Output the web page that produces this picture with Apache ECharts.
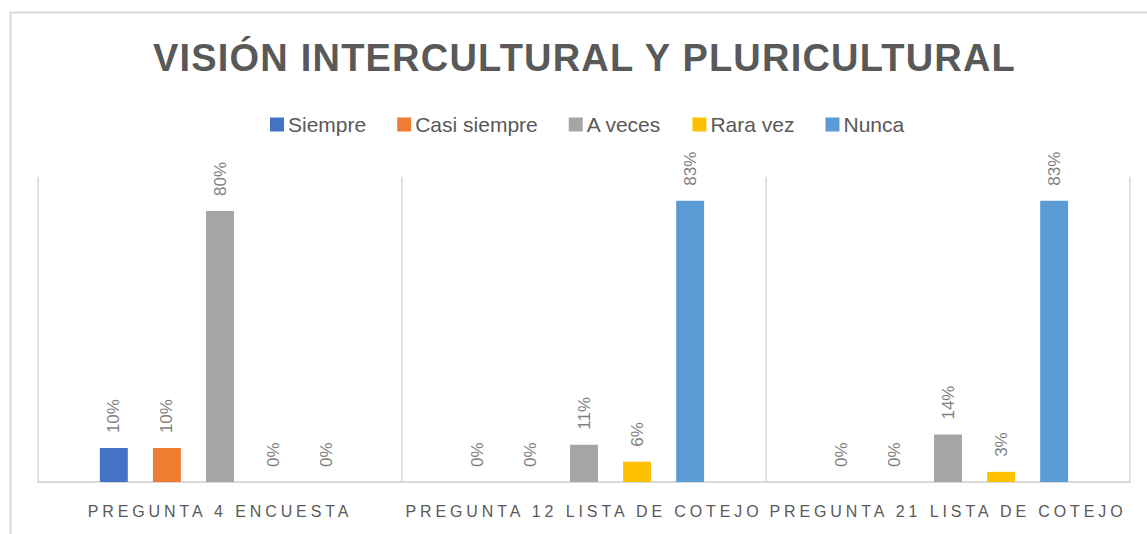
<!DOCTYPE html>
<html>
<head>
<meta charset="utf-8">
<script src="https://cdn.jsdelivr.net/npm/echarts@6/dist/echarts.min.js"></script>
<style>
html,body{margin:0;padding:0;background:#fff;}
#chart{width:1147px;height:534px;}
</style>
</head>
<body>
<div id="chart"></div>
<script>
const titleText = 'VISIÓN INTERCULTURAL Y PLURICULTURAL';
const categories = ['PREGUNTA 4 ENCUESTA', 'PREGUNTA 12 LISTA DE COTEJO', 'PREGUNTA 21 LISTA DE COTEJO'];
const seriesNames = ['Siempre', 'Casi siempre', 'A veces', 'Rara vez', 'Nunca'];
const siempre = [10, 0, 0];
const casiSiempre = [10, 0, 0];
const aVeces = [80, 11, 14];
const raraVez = [0, 6, 3];
const nunca = [0, 83, 83];
const seriesColors = ['#4472C4', '#ED7D31', '#A5A5A5', '#FFC000', '#5B9BD5'];

const seriesValues = [siempre, casiSiempre, aVeces, raraVez, nunca];
const FONT = "'Liberation Sans', Arial, sans-serif";

const chart = echarts.init(document.getElementById('chart'), null, {renderer: 'svg'});
const option = {
  animation: false,
  backgroundColor: '#ffffff',
  textStyle: {fontFamily: FONT},
  graphic: [{
    type: 'rect', left: 8, top: 10, z: -10, silent: true,
    shape: {x: 0, y: 0, width: 1300, height: 700},
    style: {fill: 'none', stroke: '#d9d9d9', lineWidth: 2}
  }],
  title: {
    text: titleText,
    left: 153,
    top: 39,
    padding: 0,
    textStyle: {fontFamily: FONT, fontSize: 38, fontWeight: 'bold', color: '#595959'}
  },
  legend: {
    left: 270,
    top: 114,
    padding: 0,
    icon: 'rect',
    itemWidth: 14,
    itemHeight: 14,
    itemGap: 31,
    textStyle: {fontFamily: FONT, fontSize: 21, color: '#595959', padding: [0, 0, 0, -1]},
    data: seriesNames
  },
  grid: {left: 38, right: 17, top: 177, bottom: 52, containLabel: false},
  xAxis: {
    type: 'category',
    data: categories,
    axisLine: {show: true, lineStyle: {color: '#d9d9d9', width: 2}},
    axisTick: {show: false},
    splitLine: {show: true, lineStyle: {color: '#d9d9d9', width: 1.5}},
    axisLabel: {margin: 21, fontFamily: FONT, fontSize: 16, color: '#595959', interval: 0}
  },
  yAxis: {
    type: 'value', min: 0, max: 90, show: false,
    splitLine: {show: false}
  },
  series: seriesNames.map((name, i) => ({
    name: name,
    type: 'bar',
    data: seriesValues[i],
    barCategoryGap: '34%',
    barGap: '90%',
    itemStyle: {color: seriesColors[i]},
    label: {
      show: true,
      position: 'top',
      distance: 15,
      rotate: 90,
      align: 'left',
      verticalAlign: 'middle',
      formatter: '{c}%',
      fontFamily: FONT,
      fontSize: 17,
      color: '#7f7f7f'
    }
  }))
};
chart.setOption(option);

function spaceLabels() {
  document.querySelectorAll('#chart text').forEach(t => {
    const s = t.textContent;
    if (categories.indexOf(s) >= 0) {
      t.setAttribute('letter-spacing', '3.9');
    } else if (s === titleText) {
      t.setAttribute('letter-spacing', '1.2');
    }
  });
}
spaceLabels();
chart.on('finished', spaceLabels);
</script>
</body>
</html>
